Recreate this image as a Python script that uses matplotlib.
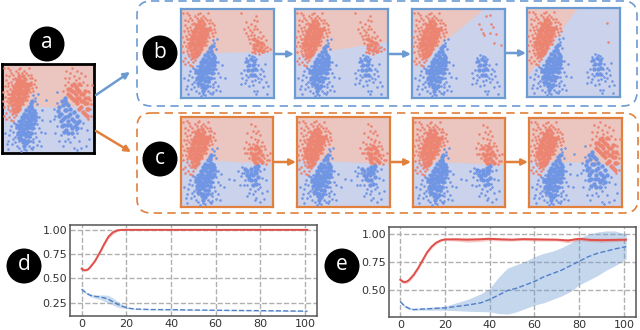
import matplotlib
matplotlib.use('Agg')
import matplotlib.pyplot as plt
from matplotlib.patches import Circle, FancyArrowPatch, FancyBboxPatch

# colours
RED_BG = '#ebc5bf'
BLUE_BG = '#cad2ec'
RED_PT = '#ec8472'
BLUE_PT = '#7095e3'
BLUE_LN = '#6c9bd2'
ORANGE_LN = '#e0803c'

# point clouds (x, y in percent of a panel)
left_red_core = [(13, 46), (16, 47), (12, 50), (15, 51), (18, 49), (11, 54), (14, 55), (17, 53), (20, 55), (10, 58),
                 (13, 59), (16, 57), (19, 59), (22, 58), (10, 62), (13, 63), (16, 61), (19, 63), (22, 62), (25, 63),
                 (11, 66), (14, 67), (17, 65), (20, 67), (23, 66), (26, 67), (12, 70), (15, 71), (18, 69), (21, 71),
                 (24, 70), (27, 71), (13, 74), (16, 75), (19, 73), (22, 75), (25, 74), (28, 75), (15, 78), (18, 79),
                 (21, 77), (24, 79), (27, 78), (16, 82), (19, 83), (22, 81), (25, 83), (19, 86), (23, 87), (30, 78)]
left_red = [(4, 45), (2, 52), (5, 58), (3, 63), (7, 50), (8, 56), (6, 66), (9, 72), (3, 75), (6, 79), (10, 80), (8, 86),
            (12, 88), (15, 92), (4, 88), (9, 93), (20, 96), (29, 95), (31, 88), (33, 84), (35, 78), (30, 69), (33, 73),
            (37, 74), (28, 64), (25, 60), (11, 44), (8, 40), (13, 40), (10, 37), (4, 38), (2, 42), (14, 84), (17, 90),
            (24, 92), (28, 88), (7, 62), (5, 70), (11, 76), (34, 70), (31, 80), (2, 95), (6, 96), (1, 68), (9, 47),
            (6, 53), (8, 66), (4, 82), (12, 83), (26, 90), (30, 84), (32, 76), (29, 72), (22, 90), (9, 60), (7, 75),
            (1, 58), (12, 36), (15, 43), (20, 52), (23, 55), (27, 60), (36, 82), (18, 94), (10, 90)]
left_blue_core = [(31, 56), (33, 58), (29, 52), (32, 53), (26, 48), (29, 47), (33, 49), (24, 44), (27, 43), (30, 45),
                  (33, 44), (22, 40), (25, 41), (28, 39), (31, 40), (34, 41), (20, 36), (23, 37), (26, 35), (29, 36),
                  (32, 37), (19, 32), (22, 33), (25, 31), (28, 32), (31, 33), (18, 28), (21, 29), (24, 27), (27, 28),
                  (30, 29), (19, 24), (22, 25), (25, 23), (28, 24), (20, 20), (23, 21), (26, 19), (21, 16), (24, 15),
                  (23, 12), (26, 11), (24, 8), (35, 46), (36, 37), (34, 33), (33, 28), (31, 23), (29, 19), (17, 23),
                  (16, 30), (18, 17), (28, 14), (36, 42)]
left_blue = [(8, 20), (6, 14), (12, 24), (14, 18), (11, 10), (5, 10), (16, 8), (24, 5), (26, 3), (29, 8), (34, 12),
             (37, 18), (35, 28), (38, 33), (40, 40), (37, 45), (36, 58), (36, 62), (38, 55), (34, 65), (42, 24),
             (40, 14), (15, 28), (13, 34), (33, 5), (10, 30), (44, 37), (42, 8), (18, 14), (19, 6), (30, 18), (36, 22),
             (38, 40), (9, 26), (3, 22), (21, 2), (47, 22), (14, 12), (39, 66), (34, 16), (16, 20), (17, 36), (31, 14),
             (33, 22), (36, 34), (36, 48), (12, 16), (28, 15), (31, 6), (7, 5), (40, 28), (38, 9), (15, 33), (34, 7)]
right_red_b_core = [(78, 60), (82, 59), (86, 57), (80, 55), (84, 54), (88, 53), (82, 64), (86, 62), (78, 66)]
right_red_b = [(70, 85), (72, 80), (75, 83), (78, 88), (82, 86), (74, 76), (78, 77), (82, 78), (85, 74), (72, 70),
               (75, 71), (79, 71), (83, 69), (86, 67), (76, 66), (80, 65), (84, 63), (88, 62), (90, 56), (79, 52),
               (83, 53), (87, 52), (76, 52), (92, 53), (80, 51), (84, 50), (96, 55), (74, 62), (70, 73), (88, 70),
               (81, 92), (64, 95), (77, 56), (89, 59), (73, 66), (68, 78), (76, 74), (80, 81), (91, 65), (93, 57)]
right_blue_b_core = [(71, 42), (75, 44), (78, 42), (73, 37), (77, 37), (72, 32), (76, 31), (80, 33), (75, 26), (79, 26)]
right_blue_b = [(70, 45), (73, 48), (76, 47), (79, 46), (69, 40), (81, 44), (71, 36), (80, 38), (83, 37), (68, 32),
                (82, 31), (86, 33), (88, 30), (70, 26), (81, 25), (85, 27), (89, 25), (66, 22), (70, 20), (76, 19),
                (80, 20), (84, 18), (91, 18), (64, 16), (73, 14), (88, 12), (94, 13), (78, 8), (82, 8), (81, 5),
                (93, 5), (64, 28), (90, 38), (83, 23), (72, 24), (77, 15), (86, 21), (69, 17)]
few_red_3 = [(80, 92), (84, 93), (72, 83), (74, 78), (76, 73), (77, 71), (85, 83), (87, 80), (84, 73), (90, 72), (88, 62), (96, 59)]
few_red_4 = [(86, 83), (87, 62)]
right_red_c_core = [(80, 64), (84, 60), (78, 57), (82, 54), (86, 52), (80, 50), (76, 60), (88, 58), (84, 66), (83, 48),
                    (80, 59), (84, 55), (78, 53), (86, 62), (82, 68), (76, 66), (88, 50)]
right_red_c = [(76, 92), (80, 90), (84, 85), (72, 82), (76, 78), (80, 76), (84, 75), (88, 72), (71, 72), (74, 70),
               (78, 70), (83, 72), (87, 68), (91, 64), (73, 65), (90, 55), (93, 58), (96, 52), (70, 60), (74, 55),
               (92, 48), (88, 49), (97, 60), (68, 66), (82, 82), (86, 80), (78, 84), (72, 60), (94, 52), (90, 68)]
right_blue_c_core = [(72, 40), (76, 42), (80, 44), (84, 46), (74, 35), (78, 36), (82, 38), (76, 30), (80, 30), (84, 33),
                     (78, 25), (72, 36), (76, 38), (80, 40), (83, 42), (74, 31), (82, 26), (70, 42)]
right_blue_c = [(62, 40), (66, 44), (69, 38), (65, 34), (70, 30), (72, 25), (68, 24), (86, 40), (90, 42), (88, 32),
                (92, 30), (85, 26), (75, 20), (80, 18), (84, 20), (88, 16), (78, 14), (82, 10), (72, 12), (90, 9),
                (94, 18), (64, 25), (58, 30), (52, 31), (80, 8), (86, 6), (66, 38), (74, 16), (86, 22)]
right_red_a_core = [(76, 70), (80, 66), (84, 62), (88, 58), (74, 64), (78, 60), (82, 56), (86, 52), (80, 74), (84, 70),
                    (88, 66), (90, 56), (72, 72), (92, 50), (90, 44), (78, 68), (82, 62), (86, 58), (76, 76), (82, 72),
                    (86, 66), (90, 62), (84, 50), (88, 46), (92, 56), (74, 72), (72, 66), (78, 78), (84, 78), (90, 70),
                    (94, 62), (94, 50), (80, 58), (76, 62), (92, 42)]
right_red_a = [(70, 92), (76, 95), (82, 92), (68, 84), (73, 84), (78, 86), (84, 84), (88, 80), (92, 76), (95, 68),
               (96, 60), (68, 76), (93, 62), (96, 50), (97, 42), (94, 38), (66, 70), (86, 90), (90, 86), (98, 76),
               (72, 80), (80, 82), (86, 76), (93, 70), (97, 55), (74, 90), (92, 42)]
right_blue_a_core = [(68, 62), (70, 56), (74, 50), (78, 46), (82, 42), (68, 48), (72, 42), (76, 38), (66, 38), (71, 32),
                     (76, 28), (81, 34), (62, 52), (65, 30), (72, 22), (68, 58), (66, 54), (70, 48), (74, 44), (78, 36),
                     (68, 40), (72, 36), (70, 26), (76, 22), (64, 44), (64, 36), (67, 32), (74, 32), (79, 30), (84, 36),
                     (82, 28), (62, 42), (72, 54), (65, 58), (61, 47), (67, 24)]
right_blue_a = [(60, 68), (62, 44), (57, 50), (56, 38), (60, 30), (58, 22), (64, 20), (68, 14), (78, 18), (82, 22),
                (86, 28), (88, 34), (92, 26), (84, 14), (74, 12), (78, 6), (81, 3), (91, 8), (95, 16), (52, 36),
                (48, 60), (44, 48), (66, 8), (86, 6), (60, 56), (58, 42), (84, 36), (80, 26), (72, 16), (62, 14)]

# edge of the red region in each panel
boundary_a = [(0, 52), (100, 52)]
boundary_b = [[(0, 50), (100, 52)], [(0, 47), (100, 63)], [(0, 33), (78, 100)], [(0, 22), (55, 100)]]
boundary_c = [[(0, 53), (100, 48)], [(0, 52), (100, 48)], [(0, 52), (100, 47)], [(0, 52), (100, 48)]]

# curves, panel d
d_red_x = [0, 1, 2, 3, 4, 6, 8, 10, 12, 14, 16, 18, 20, 40, 60, 80, 101]
d_red_y = [0.60, 0.585, 0.585, 0.595, 0.62, 0.68, 0.76, 0.85, 0.93, 0.975, 0.995, 1.0, 1.0, 1.0, 1.0, 1.0, 1.0]
d_red_lo = [0.59, 0.575, 0.575, 0.585, 0.61, 0.67, 0.75, 0.83, 0.91, 0.955, 0.985, 0.997, 1.0, 1.0, 1.0, 1.0, 1.0]
d_red_hi = [0.61, 0.595, 0.595, 0.605, 0.63, 0.69, 0.77, 0.87, 0.95, 0.99, 1.0, 1.0, 1.0, 1.0, 1.0, 1.0, 1.0]
d_blue_x = [0, 2, 4, 6, 8, 10, 12, 14, 16, 18, 20, 22, 24, 30, 40, 60, 80, 101]
d_blue_y = [0.39, 0.35, 0.325, 0.315, 0.31, 0.30, 0.285, 0.26, 0.235, 0.215, 0.20, 0.19, 0.185, 0.18, 0.178, 0.172, 0.168, 0.163]
d_blue_lo = [0.38, 0.34, 0.31, 0.295, 0.285, 0.265, 0.245, 0.225, 0.205, 0.195, 0.19, 0.185, 0.18, 0.176, 0.174, 0.168, 0.164, 0.158]
d_blue_hi = [0.40, 0.36, 0.34, 0.33, 0.33, 0.33, 0.325, 0.30, 0.265, 0.235, 0.21, 0.195, 0.19, 0.184, 0.182, 0.176, 0.172, 0.168]

# curves, panel e
e_red_x = [0, 1, 2, 3, 4, 6, 8, 10, 12, 14, 16, 18, 20, 25, 30, 35, 40, 45, 50, 55, 60, 65, 70, 75, 80, 85, 90, 95, 101]
e_red_y = [0.595, 0.58, 0.575, 0.58, 0.595, 0.64, 0.70, 0.77, 0.84, 0.89, 0.925, 0.945, 0.955, 0.955, 0.952, 0.955, 0.96,
           0.955, 0.952, 0.957, 0.955, 0.953, 0.952, 0.945, 0.96, 0.95, 0.948, 0.95, 0.952]
e_red_lo = [0.58, 0.565, 0.56, 0.565, 0.58, 0.625, 0.685, 0.755, 0.825, 0.875, 0.91, 0.935, 0.945, 0.94, 0.93, 0.935, 0.945,
            0.94, 0.94, 0.945, 0.94, 0.94, 0.94, 0.925, 0.945, 0.935, 0.93, 0.935, 0.94]
e_red_hi = [0.61, 0.595, 0.59, 0.595, 0.61, 0.655, 0.715, 0.785, 0.855, 0.905, 0.94, 0.955, 0.965, 0.97, 0.97, 0.97, 0.975,
            0.97, 0.965, 0.97, 0.97, 0.967, 0.965, 0.96, 0.975, 0.965, 0.965, 0.965, 0.965]
e_blue_x = [0, 2, 4, 6, 10, 20, 30, 36, 40, 44, 48, 52, 56, 60, 64, 68, 72, 76, 80, 84, 88, 92, 96, 101]
e_blue_y = [0.40, 0.36, 0.34, 0.33, 0.335, 0.345, 0.37, 0.39, 0.42, 0.46, 0.50, 0.52, 0.55, 0.58, 0.62, 0.65, 0.68, 0.72,
            0.76, 0.80, 0.83, 0.85, 0.87, 0.89]
e_blue_lo = [0.39, 0.35, 0.33, 0.325, 0.325, 0.325, 0.315, 0.312, 0.31, 0.295, 0.29, 0.31, 0.34, 0.37, 0.39, 0.42, 0.45,
             0.49, 0.55, 0.59, 0.63, 0.68, 0.72, 0.78]
e_blue_hi = [0.41, 0.37, 0.35, 0.34, 0.345, 0.36, 0.42, 0.47, 0.52, 0.62, 0.70, 0.73, 0.76, 0.80, 0.83, 0.85, 0.88, 0.92,
             0.97, 1.0, 1.02, 1.03, 1.03, 1.0]

x_ticks = [0, 20, 40, 60, 80, 100]
d_y_ticks = [0.25, 0.50, 0.75, 1.00]
e_y_ticks = [0.50, 0.75, 1.00]

W, H = 640, 330
fig = plt.figure(figsize=(W / 100, H / 100), dpi=100)


def axes_px(left, top, right, bottom):
    return fig.add_axes([left / W, 1 - bottom / H, (right - left) / W, (bottom - top) / H])


def dots(ax, pts, core, color):
    ax.scatter(*zip(*pts), s=3.5, color=color, linewidths=0, zorder=3)
    if core:
        ax.scatter(*zip(*core), s=10, color=color, linewidths=0, zorder=3)


def panel(box, edge, frame, right_red, right_red_core, right_blue, right_blue_core, lw=1.6):
    ax = axes_px(*box)
    ax.set_xlim(0, 100)
    ax.set_ylim(0, 100)
    ax.set_xticks([])
    ax.set_yticks([])
    ax.set_facecolor(BLUE_BG)
    (x0, y0), (x1, y1) = edge
    if x1 < 100:
        ax.fill([x0, x1, 0], [y0, y1, 100], color=RED_BG, lw=0)
    else:
        ax.fill([x0, x1, 100, 0], [y0, y1, 100, 100], color=RED_BG, lw=0)
    dots(ax, left_red, left_red_core, RED_PT)
    dots(ax, left_blue, left_blue_core, BLUE_PT)
    dots(ax, right_red, right_red_core, RED_PT)
    dots(ax, right_blue, right_blue_core, BLUE_PT)
    for s in ax.spines.values():
        s.set_color(frame)
        s.set_linewidth(lw)
    return ax


# panel a
panel((2, 64, 94, 153), boundary_a, 'black', right_red_a, right_red_a_core, right_blue_a, right_blue_a_core, lw=2)

# panels b
b_boxes = [(181, 9, 274, 98), (295, 9, 388, 98), (412, 9, 505, 98), (527, 8, 620, 97)]
b_red = [right_red_b, right_red_b, few_red_3, few_red_4]
b_core = [right_red_b_core, right_red_b_core, None, None]
for box, edge, rr, rc in zip(b_boxes, boundary_b, b_red, b_core):
    panel(box, edge, BLUE_LN, rr, rc, right_blue_b, right_blue_b_core)

# panels c
c_boxes = [(181, 117, 273, 207), (297, 117, 390, 207), (413, 118, 505, 207), (529, 118, 622, 207)]
for i, (box, edge) in enumerate(zip(c_boxes, boundary_c)):
    if i < 3:
        panel(box, edge, ORANGE_LN, right_red_c, right_red_c_core, right_blue_c, right_blue_c_core)
    else:
        panel(box, edge, ORANGE_LN, right_red_a, right_red_a_core, right_blue_a, right_blue_a_core)


def curve_axes(box, xlim, ylim, yticks):
    ax = axes_px(*box)
    ax.set_xlim(*xlim)
    ax.set_ylim(*ylim)
    ax.set_xticks(x_ticks)
    ax.set_yticks(yticks)
    ax.set_yticklabels(['%.2f' % v for v in yticks])
    ax.tick_params(labelsize=8, colors='#333333', length=0, pad=2)
    ax.grid(True, linestyle='--', color='#b0b0b0', linewidth=1)
    ax.set_axisbelow(True)
    for s in ax.spines.values():
        s.set_color('#555555')
        s.set_linewidth(1.1)
    return ax


ax_d = curve_axes((70, 225, 317, 316), (-5.2, 105.3), (0.113, 1.05), d_y_ticks)
ax_d.fill_between(d_blue_x, d_blue_lo, d_blue_hi, color='#6c9bd2', alpha=0.35, lw=0)
ax_d.fill_between(d_red_x, d_red_lo, d_red_hi, color='#e0504a', alpha=0.3, lw=0)
ax_d.plot(d_blue_x, d_blue_y, '--', color='#4f7fcb', lw=1)
ax_d.plot(d_red_x, d_red_y, color='#e0504a', lw=1.4)

ax_e = curve_axes((389, 227, 636, 317), (-5.05, 105.4), (0.264, 1.065), e_y_ticks)
ax_e.fill_between(e_blue_x, e_blue_lo, e_blue_hi, color='#6c9bd2', alpha=0.4, lw=0)
ax_e.fill_between(e_red_x, e_red_lo, e_red_hi, color='#e0504a', alpha=0.3, lw=0)
ax_e.plot(e_blue_x, e_blue_y, '--', color='#4f7fcb', lw=1)
ax_e.plot(e_red_x, e_red_y, color='#e0504a', lw=1.4)

# overlay in pixel coordinates for boxes, arrows and letters
ov = fig.add_axes([0, 0, 1, 1], zorder=10)
ov.set_xlim(0, W)
ov.set_ylim(H, 0)
ov.axis('off')

for (x0, y0, x1, y1), c in [((137, 1, 637, 106), BLUE_LN), ((137, 113, 638, 213), ORANGE_LN)]:
    ov.add_patch(FancyBboxPatch((x0, y0), x1 - x0, y1 - y0, boxstyle='round,pad=0,rounding_size=14',
                                fill=False, edgecolor=c, linewidth=1.2, linestyle=(0, (5, 3.2))))

arrows = [((96, 95), (130, 72), BLUE_LN), ((96, 131), (131, 152), ORANGE_LN),
          ((274, 54), (294, 54), BLUE_LN), ((388, 54), (411, 54), BLUE_LN), ((505, 53), (526, 53), BLUE_LN),
          ((274, 162), (296, 162), ORANGE_LN), ((391, 162), (411, 162), ORANGE_LN), ((505, 162), (528, 162), ORANGE_LN)]
for start, end, c in arrows:
    ov.add_patch(FancyArrowPatch(start, end, arrowstyle='-|>', mutation_scale=9, color=c, linewidth=1.8,
                                 shrinkA=0, shrinkB=0))

letters = [('a', 47, 44), ('b', 160, 53), ('c', 160, 159), ('d', 24, 266), ('e', 342, 266)]
for label, x, y in letters:
    ov.add_patch(Circle((x, y), 17.5, color='black', lw=0))
    ov.text(x, y - 1, label, color='white', fontsize=15, ha='center', va='center', family='Open Sans')

fig.savefig('out.png', dpi=100)
